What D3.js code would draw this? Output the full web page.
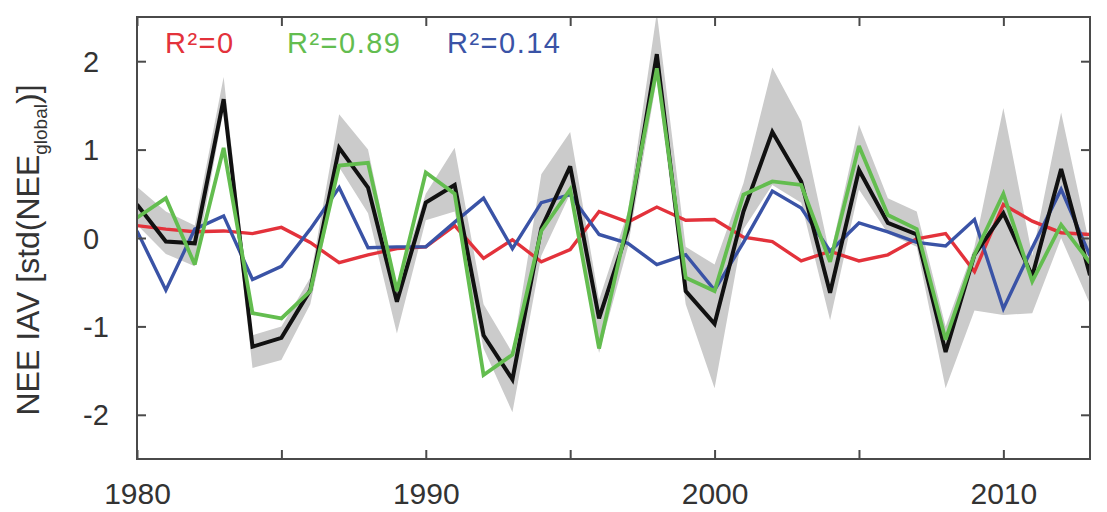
<!DOCTYPE html>
<html>
<head>
<meta charset="utf-8">
<script src="https://cdn.jsdelivr.net/npm/d3@7"></script>
<style>
  html, body { margin: 0; padding: 0; background: #ffffff; }
  svg { display: block; font-family: "Liberation Sans", Arial, Helvetica, sans-serif; }
</style>
</head>
<body>
<svg id="chart" width="1107" height="512"></svg>
<script>
// ---------------- data ----------------
const years = d3.range(1980, 2014);

const observed = [0.38, -0.04, -0.06, 1.57, -1.23, -1.13, -0.59, 1.02, 0.57, -0.72,
  0.40, 0.60, -1.10, -1.60, 0.11, 0.81, -0.91, 0.10, 2.08, -0.60,
  -0.97, 0.30, 1.20, 0.64, -0.62, 0.77, 0.17, 0.04, -1.29, -0.19,
  0.28, -0.43, 0.78, -0.42];

const greenSeries = [0.23, 0.45, -0.30, 1.02, -0.85, -0.91, -0.60, 0.82, 0.85, -0.60,
  0.74, 0.50, -1.55, -1.32, 0.08, 0.55, -1.25, 0.20, 1.92, -0.45,
  -0.60, 0.49, 0.64, 0.60, -0.27, 1.04, 0.26, 0.10, -1.15, -0.19,
  0.50, -0.49, 0.15, -0.28];

const blueSeries = [0.08, -0.59, 0.10, 0.25, -0.47, -0.32, 0.10, 0.57, -0.11, -0.10,
  -0.10, 0.18, 0.45, -0.12, 0.40, 0.49, 0.04, -0.06, -0.30, -0.19,
  -0.59, -0.05, 0.53, 0.34, -0.15, 0.17, 0.07, -0.05, -0.09, 0.21,
  -0.80, -0.11, 0.55, -0.20];

const redSeries = [0.14, 0.10, 0.07, 0.08, 0.05, 0.12, -0.05, -0.28, -0.19, -0.12,
  -0.10, 0.14, -0.23, -0.02, -0.27, -0.13, 0.30, 0.18, 0.35, 0.20,
  0.21, 0.01, -0.04, -0.26, -0.15, -0.26, -0.19, -0.01, 0.05, -0.38,
  0.38, 0.19, 0.06, 0.04];

const bandHigh = [0.58, 0.30, 0.14, 1.82, -1.10, -1.00, -0.45, 1.40, 1.00, -0.55,
  0.50, 1.02, -0.75, -1.30, 0.72, 1.20, -0.70, 0.30, 2.55, -0.10,
  -0.30, 0.62, 1.93, 1.32, -0.20, 1.28, 0.45, 0.30, -1.00, -0.10,
  1.47, -0.20, 1.42, -0.10];

const bandLow = [0.15, -0.18, -0.32, 1.45, -1.47, -1.38, -0.75, 0.80, 0.28, -1.08,
  0.20, 0.30, -1.25, -1.97, -0.20, 0.50, -1.30, -0.10, 1.80, -0.75,
  -1.70, 0.10, 0.60, 0.40, -0.93, 0.55, 0.05, -0.10, -1.70, -0.82,
  -0.87, -0.85, 0.00, -0.75];

const xTickYears = [1980, 1985, 1990, 1995, 2000, 2005, 2010];
const xLabelYears = [1980, 1990, 2000, 2010];
const yTickValues = [-2, -1, 0, 1, 2];

const legendLabels = ["R\u00B2=0", "R\u00B2=0.89", "R\u00B2=0.14"];
const yLabelMain = "NEE IAV [std(NEE";
const yLabelSub = "global";
const yLabelEnd = ")]";

// ---------------- layout ----------------
const svg = d3.select("#chart");
const plot = { left: 137, right: 1090, top: 17, bottom: 459 };

const x = d3.scaleLinear().domain([1980, 2013]).range([plot.left, plot.right]);
const y = d3.scaleLinear().domain([-2.5, 2.5]).range([plot.bottom, plot.top]);

const colors = {
  red: "#e3323b",
  green: "#63bd4f",
  blue: "#3a53a6",
  black: "#111111",
  band: "#cbcbcb",
  axis: "#4a4a4a",
  text: "#333333"
};

svg.append("defs").append("clipPath").attr("id", "plotclip")
  .append("rect")
  .attr("x", plot.left).attr("y", plot.top)
  .attr("width", plot.right - plot.left).attr("height", plot.bottom - plot.top);

const g = svg.append("g").attr("clip-path", "url(#plotclip)");

// band
const bandData = years.map((yr, i) => ({ yr, lo: bandLow[i], hi: bandHigh[i] }));
g.append("path")
  .datum(bandData)
  .attr("fill", colors.band)
  .attr("d", d3.area().x(d => x(d.yr)).y0(d => y(d.lo)).y1(d => y(d.hi)));

const line = d3.line().x(d => x(d.yr)).y(d => y(d.v));
function drawSeries(vals, color, width) {
  g.append("path")
    .datum(years.map((yr, i) => ({ yr, v: vals[i] })))
    .attr("fill", "none")
    .attr("stroke", color)
    .attr("stroke-width", width)
    .attr("stroke-linejoin", "miter")
    .attr("stroke-miterlimit", 3)
    .attr("d", line);
}
drawSeries(redSeries, colors.red, 3.4);
drawSeries(blueSeries, colors.blue, 3.4);
drawSeries(observed, colors.black, 4);
drawSeries(greenSeries, colors.green, 3.8);

// axes
const tickLen = 9;
const axB = svg.append("g").attr("transform", `translate(0,${plot.bottom})`)
  .call(d3.axisBottom(x).tickValues(xTickYears).tickSizeInner(-tickLen).tickSizeOuter(0)
    .tickPadding(24).tickFormat(d => xLabelYears.includes(d) ? String(d) : ""));
const axT = svg.append("g").attr("transform", `translate(0,${plot.top})`)
  .call(d3.axisTop(x).tickValues(xTickYears).tickSizeInner(-tickLen).tickSizeOuter(0).tickFormat(""));
const axL = svg.append("g").attr("transform", `translate(${plot.left},0)`)
  .call(d3.axisLeft(y).tickValues(yTickValues).tickSizeInner(-tickLen).tickSizeOuter(0)
    .tickFormat(d => String(d)));
const axR = svg.append("g").attr("transform", `translate(${plot.right},0)`)
  .call(d3.axisRight(y).tickValues(yTickValues).tickSizeInner(-tickLen).tickSizeOuter(0).tickFormat(""));

[axB, axT, axL, axR].forEach(a => {
  a.select(".domain").remove();
  a.selectAll(".tick line").attr("stroke", colors.axis).attr("stroke-width", 2);
});

axB.selectAll(".tick text")
  .attr("font-size", 30).attr("fill", colors.text)
  .attr("font-family", "'Liberation Sans', Arial, sans-serif");
axL.selectAll(".tick text")
  .attr("font-size", 29).attr("fill", colors.text)
  .attr("text-anchor", "start")
  .attr("x", -54)
  .attr("dy", "0.35em")
  .attr("font-family", "'Liberation Sans', Arial, sans-serif");

// frame
svg.append("rect")
  .attr("x", plot.left).attr("y", plot.top)
  .attr("width", plot.right - plot.left).attr("height", plot.bottom - plot.top)
  .attr("fill", "none").attr("stroke", colors.axis).attr("stroke-width", 2);

// legend labels
const legendColors = [colors.red, colors.green, colors.blue];
const legendX = [165, 287, 447];
svg.selectAll(".legend")
  .data(legendLabels)
  .enter().append("text")
  .attr("class", "legend")
  .attr("x", (d, i) => legendX[i])
  .attr("y", 53)
  .attr("font-size", 29)
  .attr("letter-spacing", 1.5)
  .attr("fill", (d, i) => legendColors[i])
  .text(d => d);

// y-axis title
const yt = svg.append("text")
  .attr("transform", "translate(39,250) rotate(-90)")
  .attr("text-anchor", "middle")
  .attr("font-size", 32)
  .attr("fill", colors.text);
yt.append("tspan").text(yLabelMain);
yt.append("tspan").attr("font-size", 19).attr("dy", 8).text(yLabelSub);
yt.append("tspan").attr("dy", -8).text(yLabelEnd);
</script>
</body>
</html>
